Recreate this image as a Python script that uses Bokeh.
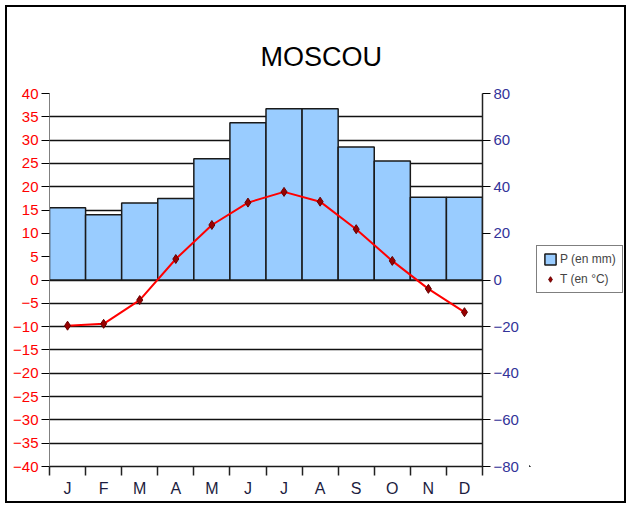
from bokeh.plotting import figure
from bokeh.layouts import row
from bokeh.models import (Range1d, LinearAxis, FixedTicker,
                          Legend, LegendItem, Title)
from bokeh.embed import file_html
from bokeh.resources import INLINE

months = ["J", "F", "M", "A", "M", "J", "J", "A", "S", "O", "N", "D"]
month_pos = [1, 2, 3, 4, 5, 6, 7, 8, 9, 10, 11, 12]
precip = [31, 28, 33, 35, 52, 67.5, 73.5, 73.5, 57, 51, 35.5, 35.5]
temp = [-9.8, -9.4, -4.3, 4.5, 11.8, 16.6, 18.9, 16.8, 10.9, 4.1, -1.9, -6.9]
temp_ticks = list(range(-40, 45, 5))
precip_ticks = list(range(-80, 100, 20))
boundaries = [m - 0.5 for m in month_pos] + [12.5]

FONT = "Liberation Sans"
BAR_STYLE = dict(fill_color="#99CCFF", line_color="#1a1a1a", line_width=1.5)
PT_STYLE = dict(marker="diamond", size=9, fill_color="#990000",
                line_color="#660000", line_width=1)

p = figure(width=524, height=498, output_backend="svg",
           toolbar_location=None,
           x_range=Range1d(0.5, 12.5), y_range=Range1d(-40, 40),
           min_border_left=42, min_border_right=49, min_border_top=86,
           min_border_bottom=39)
p.styles = {"border-left": "2px solid black", "border-top": "2px solid black",
            "border-bottom": "2px solid black"}
p.extra_y_ranges = {"p": Range1d(-80, 80)}
p.outline_line_color = None
p.background_fill_color = "white"
p.border_fill_color = "white"

t = Title(text="MOSCOU", align="left", offset=211, standoff=44,
          text_font=FONT, text_font_size="27px", text_font_style="normal",
          text_color="black")
p.add_layout(t, "above")

# grid
p.xgrid.visible = False
p.ygrid.ticker = FixedTicker(ticks=temp_ticks)
p.ygrid.grid_line_color = "#111111"
p.ygrid.grid_line_width = 1.5

# bars (precipitation, right axis)
p.vbar(x=month_pos, top=precip, bottom=0, width=1, y_range_name="p", **BAR_STYLE)

# temperature
p.line(month_pos, temp, line_color="#FF0000", line_width=2)
p.scatter(month_pos, temp, **PT_STYLE)

# left axis
ya = p.yaxis[0]
ya.ticker = FixedTicker(ticks=temp_ticks)
ya.major_label_text_color = "#FF0000"
ya.major_label_text_font = FONT
ya.major_label_text_font_size = "15px"
ya.major_tick_out = 8
ya.major_tick_in = 0
ya.minor_tick_out = 0
ya.minor_tick_in = 0
ya.axis_line_color = "#808080"
ya.major_tick_line_color = "black"
ya.major_label_standoff = 3

# right axis
ra = LinearAxis(y_range_name="p", ticker=FixedTicker(ticks=precip_ticks))
ra.major_label_text_color = "#333399"
ra.major_label_text_font = FONT
ra.major_label_text_font_size = "15px"
ra.major_tick_out = 8
ra.major_tick_in = 0
ra.axis_line_color = "#222222"
ra.axis_line_width = 1.5
ra.major_tick_line_color = "black"
ra.major_label_standoff = 3
p.add_layout(ra, "right")

# x axis
xa = p.xaxis[0]
xa.ticker = FixedTicker(ticks=month_pos, minor_ticks=boundaries)
xa.major_label_overrides = {m: lab for m, lab in zip(month_pos, months)}
xa.major_label_text_font = FONT
xa.major_label_text_font_size = "16px"
xa.major_label_text_color = "#1c1c40"
xa.major_tick_out = 0
xa.major_tick_in = 0
xa.minor_tick_out = 9
xa.minor_tick_in = 0
xa.minor_tick_line_color = "#222222"
xa.minor_tick_line_width = 1.5
xa.axis_line_color = "#1a1a1a"
xa.axis_line_width = 1.5
xa.major_label_standoff = 4

# legend panel (separate small figure holding only the legend;
# its glyph renderers lie entirely outside its visible ranges)
p2 = figure(width=97, height=498, output_backend="svg", toolbar_location=None,
            x_range=Range1d(200, 201), y_range=Range1d(200, 201),
            x_axis_location=None, y_axis_location=None,
            min_border_left=0, min_border_right=0, min_border_top=0,
            min_border_bottom=0)
p2.styles = {"border-right": "2px solid black", "border-top": "2px solid black",
             "border-bottom": "2px solid black"}
p2.grid.visible = False
p2.outline_line_color = None
p2.background_fill_color = "white"
p2.border_fill_color = "white"
leg_bar = p2.vbar(x=month_pos, top=precip, width=1, **BAR_STYLE)
leg_pt = p2.scatter(x=month_pos, y=temp, **PT_STYLE)

legend = Legend(items=[LegendItem(label="P (en mm)", renderers=[leg_bar]),
                       LegendItem(label="T (en °C)", renderers=[leg_pt])],
                location=(7, 173))
legend.label_text_font = FONT
legend.label_text_font_size = "12px"
legend.glyph_width = 14
legend.glyph_height = 14
legend.label_standoff = 3
legend.label_height = 14
legend.spacing = 6
legend.padding = 6
legend.margin = 0
legend.border_line_color = "black"
legend.border_line_width = 1
legend.background_fill_color = "white"
p2.add_layout(legend)

layout = row(p, p2)
layout.styles = {"margin-left": "5px", "margin-top": "5px"}

open("out.html", "w").write(file_html(layout, INLINE))
